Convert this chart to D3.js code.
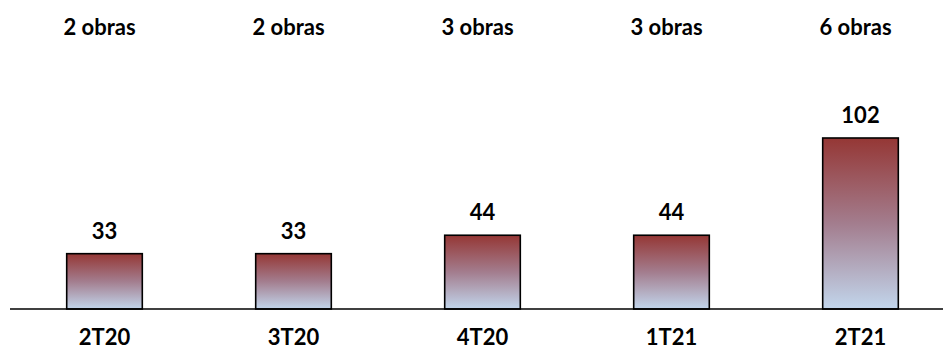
<!DOCTYPE html>
<html>
<head>
<meta charset="utf-8">
<script src="https://cdn.jsdelivr.net/npm/d3@7"></script>
<style>
  html, body { margin: 0; padding: 0; background: #fff; }
  svg { display: block; }
  text { font-family: Lato, "Open Sans", sans-serif; font-weight: bold; fill: #000; }
</style>
</head>
<body>
<svg id="chart" width="943" height="351"></svg>
<script>
const categories = ["2T20", "3T20", "4T20", "1T21", "2T21"];
const values = [33, 33, 44, 44, 102];
const worksLabels = ["2 obras", "2 obras", "3 obras", "3 obras", "6 obras"];

const W = 943, H = 351;
const svg = d3.select("#chart");

const x = d3.scaleBand()
  .domain(categories)
  .range([10, 955])
  .paddingInner(0.6)
  .paddingOuter(0.3);

const y = d3.scaleLinear()
  .domain([0, 102])
  .range([309, 138]);

const defs = svg.append("defs");
const grad = defs.append("linearGradient")
  .attr("id", "barGrad")
  .attr("x1", 0).attr("y1", 0).attr("x2", 0).attr("y2", 1);
grad.append("stop").attr("offset", "0%").attr("stop-color", "#953735");
grad.append("stop").attr("offset", "50%").attr("stop-color", "#a37d8e");
grad.append("stop").attr("offset", "100%").attr("stop-color", "#c2d6ec");

const data = categories.map((c, i) => ({ c, v: values[i], w: worksLabels[i] }));

svg.append("g").selectAll("rect")
  .data(data)
  .join("rect")
  .attr("x", d => x(d.c))
  .attr("y", d => y(d.v))
  .attr("width", x.bandwidth())
  .attr("height", d => y(0) - y(d.v))
  .attr("fill", "url(#barGrad)")
  .attr("stroke", "#000")
  .attr("stroke-width", 1.6);

// baseline axis
const axis = svg.append("g")
  .attr("transform", `translate(0,${y(0)})`)
  .call(d3.axisBottom(x).tickSize(0).tickPadding(20));
axis.select(".domain")
  .attr("d", `M10,0H${W}`)
  .attr("stroke", "#000")
  .attr("stroke-width", 1.6);
axis.selectAll(".tick text")
  .attr("font-size", 22)
  .style("font-family", "Lato, 'Open Sans', sans-serif")
  .style("font-weight", "bold")
  .attr("fill", "#000");

// value labels
svg.append("g").selectAll("text")
  .data(data)
  .join("text")
  .attr("x", d => x(d.c) + x.bandwidth() / 2)
  .attr("y", d => y(d.v) - 15)
  .attr("text-anchor", "middle")
  .attr("font-size", 22)
  .text(d => d.v);

// works count labels
svg.append("g").selectAll("text")
  .data(data)
  .join("text")
  .attr("x", d => x(d.c) + x.bandwidth() / 2 - 5)
  .attr("y", 35)
  .attr("text-anchor", "middle")
  .attr("font-size", 22)
  .text(d => d.w);
</script>
</body>
</html>
